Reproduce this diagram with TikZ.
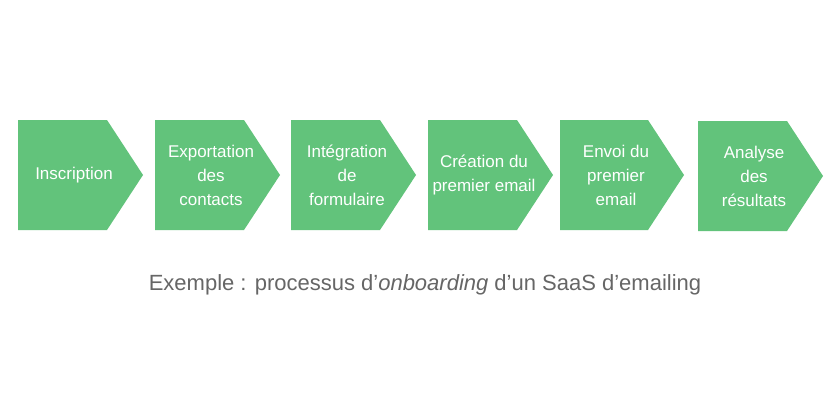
\documentclass[tikz,border=0pt]{standalone}
\usepackage{fontspec}
\setmainfont{Liberation Sans}
\definecolor{gr}{HTML}{62C37B}
\definecolor{cap}{HTML}{666666}
\begin{document}
\begin{tikzpicture}[x=1pt,y=-1pt,
  lbl/.style={text=white,font=\fontsize{17}{24}\selectfont,align=center}]
\useasboundingbox (0,0) rectangle (840,420);
\fill[white] (0,0) rectangle (840,420);
\foreach \x/\b/\t/\txt [count=\i] in {18/107/120/Inscription,155/244/120/{Exportation\\des\\contacts},291/380/120/{Intégration\\de\\formulaire},428/517/120/{Création du\\premier email},560/648/120/{Envoi du\\premier\\email},698/787/121/{Analyse\\des\\résultats}}{
  \fill[gr] (\x,\t) -- (\b,\t) -- (\b+36,\t+55) -- (\b,\t+110) -- (\x,\t+110) -- cycle;
  \node[lbl] (s\i) at (\x+56,\t+55) {\txt};
}
\node[text=cap,font=\fontsize{22}{26}\selectfont] (c) at (425,285) {Exemple : processus d'\textit{onboarding} d'un SaaS d'emailing};
\end{tikzpicture}
\end{document}
